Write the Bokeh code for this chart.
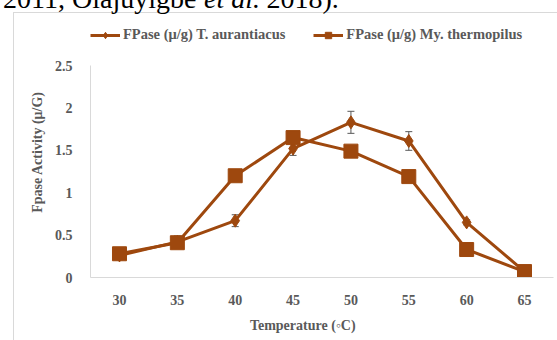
from bokeh.plotting import figure
from bokeh.models import (ColumnDataSource, Range1d, FixedTicker, Whisker, TeeHead, Legend,
                          LegendItem, InlineStyleSheet)
from bokeh.embed import file_html
from bokeh.resources import INLINE

temps = [30, 35, 40, 45, 50, 55, 60, 65]
t_aurantiacus = [0.26, 0.42, 0.67, 1.52, 1.83, 1.61, 0.65, 0.07]
t_aurantiacus_err = [0.05, 0.07, 0.07, 0.08, 0.13, 0.11, 0.03, 0.02]
my_thermopilus = [0.28, 0.41, 1.20, 1.65, 1.49, 1.19, 0.33, 0.07]
y_ticks = [0, 0.5, 1, 1.5, 2, 2.5]

COL = "#9E480E"
GRAY = "#595959"
FONT = "Liberation Serif"

# page residue above the chart (cut at the top) and the chart's light border
css = """
:host {
  background-image: linear-gradient(#D9D9D9, #D9D9D9), linear-gradient(#D9D9D9, #D9D9D9);
  background-size: 1px 328px, 544px 1px;
  background-position: 13px 12px, 13px 12px;
  background-repeat: no-repeat;
}
:host::before {
  content: "2011, Olajuyigbe          2018).";
  position: absolute; left: 3px; top: -15.5px;
  font-family: 'Liberation Serif', serif; font-size: 28px; line-height: 28px;
  white-space: pre; color: #000;
}
:host::after {
  content: "et al.";
  position: absolute; left: 204px; top: -15.5px;
  font-family: 'Liberation Serif', serif; font-size: 28px; line-height: 28px;
  font-style: italic; white-space: pre; color: #000;
}
"""

# frame spans x 90..553 and y 26..277 px; values 0..2.5 occupy y 65..277
p = figure(width=557, height=340, x_range=Range1d(27.494, 67.506), y_range=Range1d(0, 2.96),
           output_backend="svg", toolbar_location=None,
           min_border_left=90, min_border_right=4, min_border_top=26, min_border_bottom=63,
           stylesheets=[InlineStyleSheet(css=css)])
p.outline_line_color = None
p.background_fill_alpha = 0
p.border_fill_alpha = 0
p.xgrid.grid_line_color = None
p.ygrid.grid_line_color = None

src = ColumnDataSource(dict(
    x=temps, a=t_aurantiacus,
    up=[v + e for v, e in zip(t_aurantiacus, t_aurantiacus_err)],
    lo=[v - e for v, e in zip(t_aurantiacus, t_aurantiacus_err)],
    m=my_thermopilus))

wh = Whisker(source=src, base="x", upper="up", lower="lo", line_color=GRAY, line_width=1,
             upper_head=TeeHead(size=7, line_color=GRAY, line_width=1),
             lower_head=TeeHead(size=7, line_color=GRAY, line_width=1), level="underlay")
p.add_layout(wh)

la = p.line("x", "a", source=src, line_color=COL, line_width=3)
sa = p.scatter("x", "a", source=src, marker="diamond", size=13, fill_color=COL, line_color=COL)
lm = p.line("x", "m", source=src, line_color=COL, line_width=3)
sm = p.scatter("x", "m", source=src, marker="square", size=14, fill_color=COL, line_color=COL)

for ax in (p.xaxis[0], p.yaxis[0]):
    ax.axis_line_color = "#D9D9D9"
    ax.axis_line_width = 1
    ax.major_tick_line_color = None
    ax.minor_tick_line_color = None
    ax.major_label_text_font = FONT
    ax.major_label_text_font_style = "bold"
    ax.major_label_text_font_size = "14px"
    ax.major_label_text_color = GRAY
    ax.axis_label_text_font = FONT
    ax.axis_label_text_font_style = "bold"
    ax.axis_label_text_font_size = "14px"
    ax.axis_label_text_color = GRAY

p.yaxis.ticker = FixedTicker(ticks=y_ticks)
p.yaxis.major_label_overrides = {0: "0", 1: "1", 2: "2"}
p.yaxis.major_label_standoff = 12
p.yaxis.axis_label = "Fpase Activity (μ/G)"
p.yaxis.axis_label_standoff = 7
p.yaxis.bounds = (0, 2.5)

p.xaxis.ticker = FixedTicker(ticks=temps)
p.xaxis.major_label_standoff = 11
p.xaxis.axis_label = "Temperature (◦C)" + "\u00a0" * 11
p.xaxis.axis_label_standoff = 10

legend = Legend(items=[
    LegendItem(label="FPase (μ/g) T. aurantiacus", renderers=[la, sa]),
    LegendItem(label="FPase (μ/g) My. thermopilus", renderers=[lm, sm])],
    orientation="horizontal", location="top_left", padding=0, margin=0,
    spacing=28, glyph_width=30, glyph_height=16, label_standoff=3,
    background_fill_alpha=0, border_line_color=None,
    label_text_font=FONT, label_text_font_style="bold", label_text_font_size="14.5px",
    label_text_color=GRAY)
p.add_layout(legend, "center")

open("out.html", "w").write(file_html(p, INLINE))
